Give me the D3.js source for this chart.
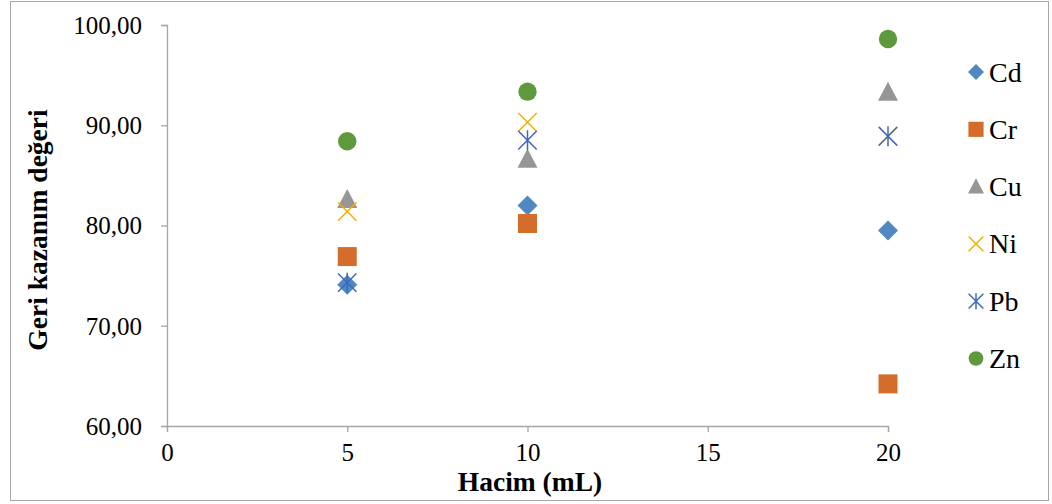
<!DOCTYPE html>
<html><head><meta charset="utf-8">
<script src="https://cdn.jsdelivr.net/npm/d3@7"></script>
<style>
html,body{margin:0;padding:0;background:#fff;}
svg{display:block;}
svg text{font-family:"Liberation Serif","Times New Roman",Times,serif !important;}
</style></head>
<body><svg id="chart" width="1052" height="504"></svg>
<script>
const volumes = [5, 10, 20];
const seriesNames = ["Cd", "Cr", "Cu", "Ni", "Pb", "Zn"];
const cdValues = [74.1, 82.0, 79.5];
const crValues = [76.9, 80.2, 64.2];
const cuValues = [82.6, 86.6, 93.3];
const niValues = [81.4, 90.3, 88.9];
const pbValues = [74.3, 88.5, 88.9];
const znValues = [88.4, 93.35, 98.6];
const xTicks = [0, 5, 10, 15, 20];
const yTicks = [60, 70, 80, 90, 100];
const xTitle = "Hacim (mL)";
const yTitle = "Geri kazanım değeri";

const values = [cdValues, crValues, cuValues, niValues, pbValues, znValues];
const colors = ["#4f88c2", "#d46d2c", "#969696", "#f0b000", "#3f67bf", "#5e9a3c"];
const shapes = ["diamond", "square", "triangle", "x", "asterisk", "circle"];
const FONT = '"Liberation Serif", "Times New Roman", Times, serif';

const svg = d3.select("#chart").attr("font-family", FONT);
const x = d3.scaleLinear().domain([0, 20]).range([167, 888]);
const y = d3.scaleLinear().domain([60, 100]).range([426, 25]);

// outer border
svg.append("rect").attr("x", 10.5).attr("y", 1.5).attr("width", 1038).attr("height", 499)
  .attr("fill", "none").attr("stroke", "#a6a6a6").attr("stroke-width", 1);

const axisColor = "#a6a6a6";
const fmt = v => d3.format(".2f")(v).replace(".", ",");

const yAxis = svg.append("g").attr("transform", "translate(167,0)")
  .call(d3.axisLeft(y).tickValues(yTicks).tickSize(6).tickPadding(19).tickFormat(fmt));
const xAxis = svg.append("g").attr("transform", "translate(0,426)")
  .call(d3.axisBottom(x).tickValues(xTicks).tickSize(6).tickPadding(12).tickFormat(d3.format("d")));
[yAxis, xAxis].forEach(a => {
  a.attr("font-family", FONT).attr("font-size", 25);
  a.selectAll("path").attr("stroke", axisColor).attr("stroke-width", 1.3);
  a.selectAll("line").attr("stroke", axisColor).attr("stroke-width", 1.3);
  a.selectAll("text").attr("fill", "#000").attr("font-family", FONT).attr("font-size", 25);
});
yAxis.selectAll("text").attr("dy", "0.33em");
xAxis.selectAll("text").attr("dy", "0.68em");

// axis titles
svg.append("text").attr("x", 530).attr("y", 491).attr("text-anchor", "middle")
  .attr("font-family", FONT).attr("font-size", 27.5).attr("font-weight", "bold").text(xTitle);
svg.append("text").attr("transform", "translate(47,230) rotate(-90)").attr("text-anchor", "middle")
  .attr("font-family", FONT).attr("font-size", 27.5).attr("font-weight", "bold").text(yTitle);

function shapePath(shape, s) {
  const h = s / 2;
  switch (shape) {
    case "diamond": return `M0,${-h}L${h},0L0,${h}L${-h},0Z`;
    case "square": { const q = h * 0.95; return `M${-q},${-q}H${q}V${q}H${-q}Z`; }
    case "triangle": return `M0,${-h * 1.05}L${h},${h * 0.85}L${-h},${h * 0.85}Z`;
    case "x": { const q = h * 0.92; return `M${-q},${-q}L${q},${q}M${-q},${q}L${q},${-q}`; }
    case "asterisk": { const q = h * 0.92; return `M${-q},${-q}L${q},${q}M${-q},${q}L${q},${-q}M0,${-h}L0,${h}`; }
    case "circle": { const r = h * 0.92; return `M${r},0A${r},${r} 0 1,1 ${-r},0A${r},${r} 0 1,1 ${r},0Z`; }
  }
}
function styleMark(sel, i) {
  const stroked = shapes[i] === "x" || shapes[i] === "asterisk";
  sel.attr("fill", stroked ? "none" : colors[i])
     .attr("stroke", stroked ? colors[i] : "none")
     .attr("stroke-width", stroked ? 1.5 : 0);
}

values.forEach((vals, i) => {
  const pts = volumes.map((v, j) => ({ x: v, y: vals[j] }));
  const g = svg.append("g").attr("class", "series-" + seriesNames[i]);
  g.selectAll("path").data(pts).join("path")
    .attr("transform", d => `translate(${x(d.x)},${y(d.y)})`)
    .attr("d", shapePath(shapes[i], 20))
    .call(styleMark, i);
});

// legend
const legend = svg.append("g");
seriesNames.forEach((name, i) => {
  const cy = 72 + i * 57.3;
  legend.append("path").attr("transform", `translate(976,${cy})`)
    .attr("d", shapePath(shapes[i], 16)).call(styleMark, i);
  legend.append("text").attr("x", 989).attr("y", cy + 9.5)
    .attr("font-family", FONT).attr("font-size", 28).text(name);
});
</script></body></html>
